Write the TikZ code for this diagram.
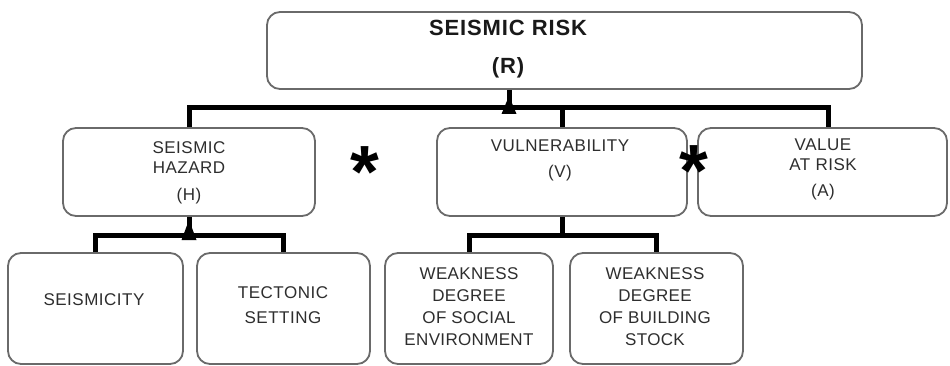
\documentclass[tikz,border=0pt]{standalone}
\usepackage{fontspec}
\setmainfont{Liberation Sans}
\usetikzlibrary{calc}
\definecolor{boxline}{HTML}{6A6A6A}
\definecolor{txt}{HTML}{2E2E2E}
\tikzset{
  box/.style={draw=boxline, line width=1.8pt, rounded corners=13pt, inner sep=0pt, fill=white},
  conn/.style={draw=black, line width=5pt},
  lbl/.style={text=txt, inner sep=0pt, align=center, font=\fontsize{17}{20}\selectfont\addfontfeatures{LetterSpace=3}},
  ttl/.style={text=black!90, inner sep=0pt, align=center, font=\fontsize{22}{38}\selectfont\bfseries\addfontfeatures{LetterSpace=4}},
  star/.style={inner sep=0pt, font=\fontsize{74}{74}\selectfont\bfseries}
}
\begin{document}
\begin{tikzpicture}[x=1pt,y=-1pt]
\useasboundingbox[fill=white] (0,0) rectangle (950,366);
% boxes
\node[box, minimum width=595pt, minimum height=77pt] (R) at (564.5,50.5) {};
\node[box, minimum width=252pt, minimum height=88pt] (H) at (189,172) {};
\node[box, minimum width=250pt, minimum height=88pt] (V) at (562,172) {};
\node[box, minimum width=249pt, minimum height=88pt] (A) at (822.5,172) {};
\node[box, minimum width=175pt, minimum height=111pt] (S1) at (95.5,308.5) {};
\node[box, minimum width=173pt, minimum height=111pt] (S2) at (283.5,308.5) {};
\node[box, minimum width=168pt, minimum height=111pt] (W1) at (469,308.5) {};
\node[box, minimum width=173pt, minimum height=111pt] (W2) at (656.5,308.5) {};
% texts
\node[ttl, anchor=north] (tR) at (508,20) {SEISMIC RISK\\(R)};
\node[lbl, anchor=north] (tH) at (189,141) {SEISMIC\\HAZARD\\[7pt](H)};
\node[lbl, anchor=north] (tV) at (560,140) {VULNERABILITY\\[6pt](V)};
\node[lbl, anchor=north] (tA) at (823,139) {VALUE\\AT RISK\\[6pt](A)};
\node[lbl] (tS1) at (94,300) {SEISMICITY};
\node[lbl, anchor=north, font=\fontsize{17}{25}\selectfont\addfontfeatures{LetterSpace=3}] (tS2) at (283,286) {TECTONIC\\SETTING};
\node[lbl, anchor=north, font=\fontsize{17}{22}\selectfont\addfontfeatures{LetterSpace=2}] (tW1) at (469,267) {WEAKNESS\\DEGREE\\OF SOCIAL\\ENVIRONMENT};
\node[lbl, anchor=north, font=\fontsize{17}{22}\selectfont\addfontfeatures{LetterSpace=2}] (tW2) at (655,267) {WEAKNESS\\DEGREE\\OF BUILDING\\STOCK};
% asterisks
\node[star] (st1) at (365,172) {*};
\node[star] (st2) at (694,171) {*};
% junction coordinates
\coordinate (jR) at (509,108);
\coordinate (jA) at (828,108);
\coordinate (jH) at (189,235);
\coordinate (jV) at (562,235);
% top level connectors
\draw[conn] (H.north) |- (jR) -- (jA) -- (jA |- A.north);
\draw[conn] (jR -| V.north) -- (V.north);
\draw[conn] (jR |- R.south) -- (jR);
\fill ($(jR)+(0,-12)$) -- ($(jR)+(7.5,6)$) -- ($(jR)+(-7.5,6)$) -- cycle;
% hazard connectors
\draw[conn] (S1.north) |- (jH) -| (S2.north);
\draw[conn] (H.south) -- (jH);
\fill ($(jH)+(0,-15)$) -- ($(jH)+(7.5,5)$) -- ($(jH)+(-7.5,5)$) -- cycle;
% vulnerability connectors
\draw[conn] (W1.north) |- (jV) -| (W2.north);
\draw[conn] (V.south) -- (jV);
\end{tikzpicture}
\end{document}
